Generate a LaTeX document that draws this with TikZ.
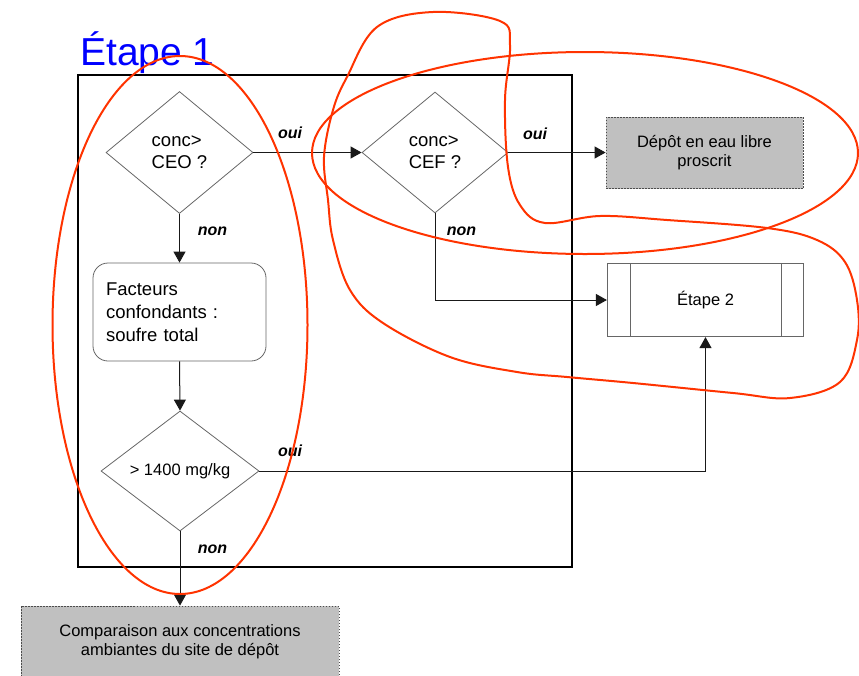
\documentclass[tikz,border=0pt]{standalone}
\usepackage{fontspec}
\setmainfont{Liberation Sans}
\usetikzlibrary{shapes.geometric,arrows.meta}
\definecolor{redmark}{RGB}{255,51,0}
\definecolor{boxgray}{RGB}{192,192,192}
\definecolor{etapeblue}{RGB}{0,0,255}
\begin{document}
\begin{tikzpicture}[x=1pt,y=-1pt,
  decision/.style={diamond, draw=black!60, line width=0.8pt, inner sep=0pt, align=left, font=\fontsize{18.5}{22}\selectfont},
  flow/.style={draw=black!90, line width=1pt, -{Triangle[length=11pt,width=12pt]}},
  lbl/.style={font=\fontsize{16}{18}\selectfont\bfseries\itshape, inner sep=0pt},
  greybox/.style={rectangle, draw=black!70, line width=0.8pt, dash pattern=on 1.5pt off 1.5pt, fill=boxgray, align=center, font=\fontsize{16.5}{19}\selectfont, inner sep=0pt},
  redline/.style={draw=redmark, line width=2pt}
]
\useasboundingbox (0,0) rectangle (859,675);
% frame
\node[draw=black, line width=2pt, minimum width=494pt, minimum height=492pt, inner sep=0pt] (frame) at (325,321) {};
\node[anchor=base west, text=etapeblue, font=\fontsize{39}{42}\selectfont, inner sep=0pt] (t1) at (80,65) {Étape 1};
% nodes
\node[decision, minimum width=147pt, minimum height=122pt] (d1) at (179.5,152.5) {conc>\\CEO ?};
\node[decision, minimum width=146pt, minimum height=121pt] (d2) at (435,152.5) {conc>\\CEF ?};
\node[rectangle, rounded corners=15pt, draw=black!60, line width=0.8pt, minimum width=173pt, minimum height=98pt, text width=147pt, align=left, inner sep=0pt, font=\fontsize{18.5}{23}\selectfont] (fact) at (179.5,312) {Facteurs\\confondants :\\soufre total};
\node[decision, minimum width=158pt, minimum height=120pt, font=\fontsize{16.5}{19}\selectfont] (d3) at (180,471) {> 1400 mg/kg};
\node[greybox, minimum width=197pt, minimum height=71.5pt] (depot) at (704.5,153) {Dépôt en eau libre\\proscrit};
\node[rectangle, draw=black!60, line width=1.2pt, minimum width=196pt, minimum height=73pt, font=\fontsize{16.5}{19}\selectfont] (e2) at (705.5,300) {Étape 2};
\draw[draw=black!60, line width=1.2pt] ([xshift=23.5pt]e2.north west) -- ([xshift=23.5pt]e2.south west);
\draw[draw=black!60, line width=1.2pt] ([xshift=-22.5pt]e2.north east) -- ([xshift=-22.5pt]e2.south east);
\node[greybox, minimum width=318pt, minimum height=72pt] (comp) at (180,642) {Comparaison aux concentrations\\ambiantes du site de dépôt};
% connectors
\draw[flow] (d1.south) -- (fact.north);
\draw[flow] (fact.south) -- (d3.north);
\draw[flow] (d3.south) -- (comp.north);
\draw[flow] (d1.east) -- (d2.west);
\draw[flow] (d2.east) -- (d2.east -| depot.west);
\draw[flow] (d2.south) |- (e2.west);
\draw[flow] (d3.east) -| (e2.south);
% labels
\node[lbl] (l1) at (290,133) {oui};
\node[lbl] (l2) at (212.5,231) {non};
\node[lbl] (l3) at (535,134) {oui};
\node[lbl] (l4) at (461.5,231) {non};
\node[lbl] (l5) at (290,451) {oui};
\node[lbl] (l6) at (212.5,549) {non};
% red marks
\draw[redline] (180,325) ellipse [x radius=127.5, y radius=269];
\draw[redline] (585,153) ellipse [x radius=273, y radius=101];
\draw[redline] plot[smooth cycle, tension=0.6] coordinates {
 (433,12) (500,21) (510,45) (505,100) (508,167) (520,205) (545,223) (600,216) (667,220)
 (767,228) (817,240) (845,262) (857,300) (857,340) (840,382) (790,398) (733,393)
 (633,383) (567,377) (517,372) (450,357) (383,323) (350,290) (333,240) (328,200)
 (324,157) (333,110) (347,77) (377,27)};
\end{tikzpicture}
\end{document}
